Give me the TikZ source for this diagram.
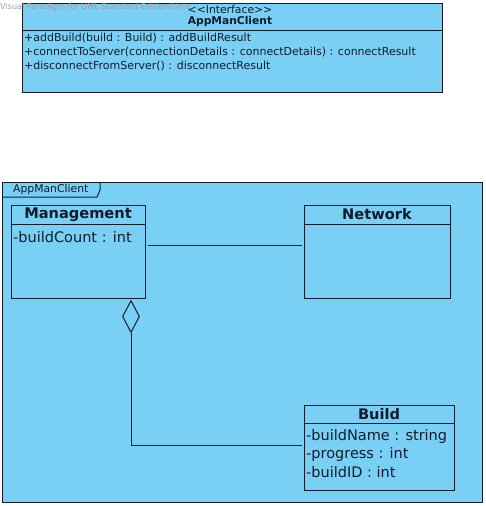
\documentclass[tikz,border=0pt]{standalone}
\usepackage{fontspec}
\setmainfont{DejaVu Sans}
\usetikzlibrary{shapes.geometric}
\definecolor{umlfill}{RGB}{122,207,245}
\definecolor{umlline}{RGB}{18,28,42}
\tikzset{
  classbox/.style={draw=umlline, fill=umlfill, line width=1pt, anchor=north west, inner sep=0pt},
  classname/.style={font=\fontsize{14.6}{16}\selectfont\bfseries, text=umlline, inner sep=0pt},
  member/.style={font=\fontsize{14.5}{16}\selectfont, text=umlline, anchor=west, inner sep=0pt},
  method/.style={font=\fontsize{11}{13}\selectfont, text=umlline, anchor=west, inner sep=0pt},
  link/.style={draw=umlline, line width=1pt}
}
\begin{document}
\begin{tikzpicture}[x=1pt, y=-1pt]
\useasboundingbox (0,0) rectangle (486,506);

% interface
\node[classbox, minimum width=420pt, minimum height=89pt] (iface) at (22,3) {};
\draw[link] (22,30) -- (442,30);
\node[font=\fontsize{8.1}{9}\selectfont, text=gray!75, anchor=west, inner sep=0pt] (wmark) at (0,7) {Visual Paradigm for UML Standard Edition(Univ};
\node[font=\fontsize{10.8}{12}\selectfont, text=umlline, inner sep=0pt] (stereo) at (230,9) {{<}{<}Interface{>}{>}};
\node[font=\fontsize{10.7}{12}\selectfont\bfseries, text=umlline, inner sep=0pt] (ifname) at (230,22) {AppManClient};
\node[method] (m1) at (24,38) {+addBuild(build : Build) : addBuildResult};
\node[method] (m2) at (24,52) {+connectToServer(connectionDetails : connectDetails) : connectResult};
\node[method] (m3) at (24,66) {+disconnectFromServer() : disconnectResult};

% package
\draw[link, fill=umlfill] (2,182) rectangle (482,502);
\draw[link] (2,197) -- (97,197) -- (100,190) -- (100,182);
\node[font=\fontsize{10.8}{12}\selectfont, text=umlline, inner sep=0pt, anchor=west] (pkg) at (13,189.5) {AppManClient};

% classes
\node[classbox, minimum width=134pt, minimum height=93pt] (mgmt) at (11,205) {};
\draw[link] (11,224) -- (145,224);
\node[classname] (mgmtname) at (78,214.5) {Management};
\node[member] (bc) at (13,237) {-buildCount : int};

\node[classbox, minimum width=146pt, minimum height=93pt] (net) at (304,205) {};
\draw[link] (304,224) -- (450,224);
\node[classname] (netname) at (377,214.5) {Network};

\node[classbox, minimum width=150pt, minimum height=85pt] (build) at (304,405) {};
\draw[link] (304,423) -- (454,423);
\node[classname] (buildname) at (379,414) {Build};
\node[member] (b1) at (306,436) {-buildName : string};
\node[member] (b2) at (306,454.5) {-progress : int};
\node[member] (b3) at (306,472.5) {-buildID : int};

% connectors
\coordinate (assoc) at (0,245);
\coordinate (aggy) at (0,445);
\draw[link] ([xshift=2pt]mgmt.east |- assoc) -- ([xshift=-2pt]net.west |- assoc);
\node[diamond, draw=umlline, line width=1pt, fill=umlfill, minimum width=17pt, minimum height=32pt, inner sep=0pt, anchor=north] (agg) at (131,300) {};
\draw[link] (agg.south) |- ([xshift=-2pt]build.west |- aggy);
\end{tikzpicture}
\end{document}
